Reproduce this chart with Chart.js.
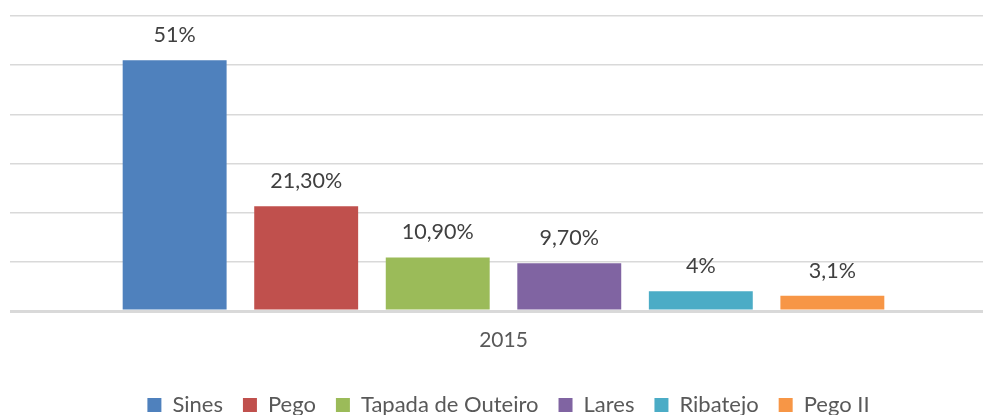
<!DOCTYPE html>
<html>
<head>
<meta charset="utf-8">
<script src="https://cdn.jsdelivr.net/npm/chart.js@4"></script>
<style>
  html, body { margin: 0; padding: 0; background: #fff; }
  #wrap { width: 983px; height: 415px; }
</style>
</head>
<body>
<div id="wrap"><canvas id="grafico" width="983" height="415"></canvas></div>
<script>
const categorias = ["2015"];
const centrais = ["Sines", "Pego", "Tapada de Outeiro", "Lares", "Ribatejo", "Pego II"];
const valores = [51, 21.3, 10.9, 9.7, 4, 3.1];
const rotulos = ["51%", "21,30%", "10,90%", "9,70%", "4%", "3,1%"];
const cores = ["#4F81BD", "#C0504D", "#9BBB59", "#8064A2", "#4BACC6", "#F79646"];
const ticksY = [0, 10, 20, 30, 40, 50, 60];

const fonte = "Lato, 'Liberation Sans', sans-serif";

// rotulos em cima das barras
const rotulosPlugin = {
  id: "rotulos",
  afterDatasetsDraw(chart) {
    const ctx = chart.ctx;
    ctx.save();
    ctx.font = "21.5px " + fonte;
    ctx.fillStyle = "#404040";
    ctx.textAlign = "center";
    ctx.textBaseline = "middle";
    chart.data.datasets.forEach((ds, i) => {
      const el = chart.getDatasetMeta(i).data[0];
      if (!el) return;
      ctx.fillText(rotulos[i], el.x, el.y - 25);
    });
    ctx.restore();
  }
};

// legenda mais baixa e um pouco para a direita
const legendaPlugin = {
  id: "legendaBaixa",
  beforeInit(chart) {
    const fitOrig = chart.legend.fit;
    chart.legend.fit = function () {
      fitOrig.bind(chart.legend)();
      this.height -= 11;
    };
  },
  afterLayout(chart) {
    chart.legend.left += 12;
    chart.legend.right += 12;
  }
};

new Chart(document.getElementById("grafico"), {
  type: "bar",
  data: {
    labels: categorias,
    datasets: centrais.map((nome, i) => ({
      label: nome,
      data: [valores[i]],
      backgroundColor: cores[i],
      barPercentage: 0.79,
      categoryPercentage: 0.823
    }))
  },
  options: {
    responsive: false,
    animation: false,
    layout: { padding: { left: 10, right: 0, top: 16, bottom: 0 } },
    plugins: {
      tooltip: { enabled: false },
      legend: {
        position: "bottom",
        labels: {
          boxWidth: 14,
          boxHeight: 14,
          padding: 20,
          color: "#595959",
          font: { family: fonte, size: 22 }
        }
      }
    },
    scales: {
      x: {
        grid: { display: false, drawTicks: false },
        border: { display: false },
        ticks: { color: "#595959", padding: 17, font: { family: fonte, size: 21 } },
        afterFit(scale) { scale.height = 63; }
      },
      y: {
        min: 0,
        max: 60,
        afterBuildTicks(scale) { scale.ticks = ticksY.map(v => ({ value: v })); },
        ticks: { display: false },
        border: { display: false },
        grid: {
          color: "#d9d9d9",
          lineWidth: c => (c.tick && c.tick.value === 0 ? 3 : 1.5),
          drawTicks: true,
          tickLength: 14
        }
      }
    }
  },
  plugins: [rotulosPlugin, legendaPlugin]
});
</script>
</body>
</html>
